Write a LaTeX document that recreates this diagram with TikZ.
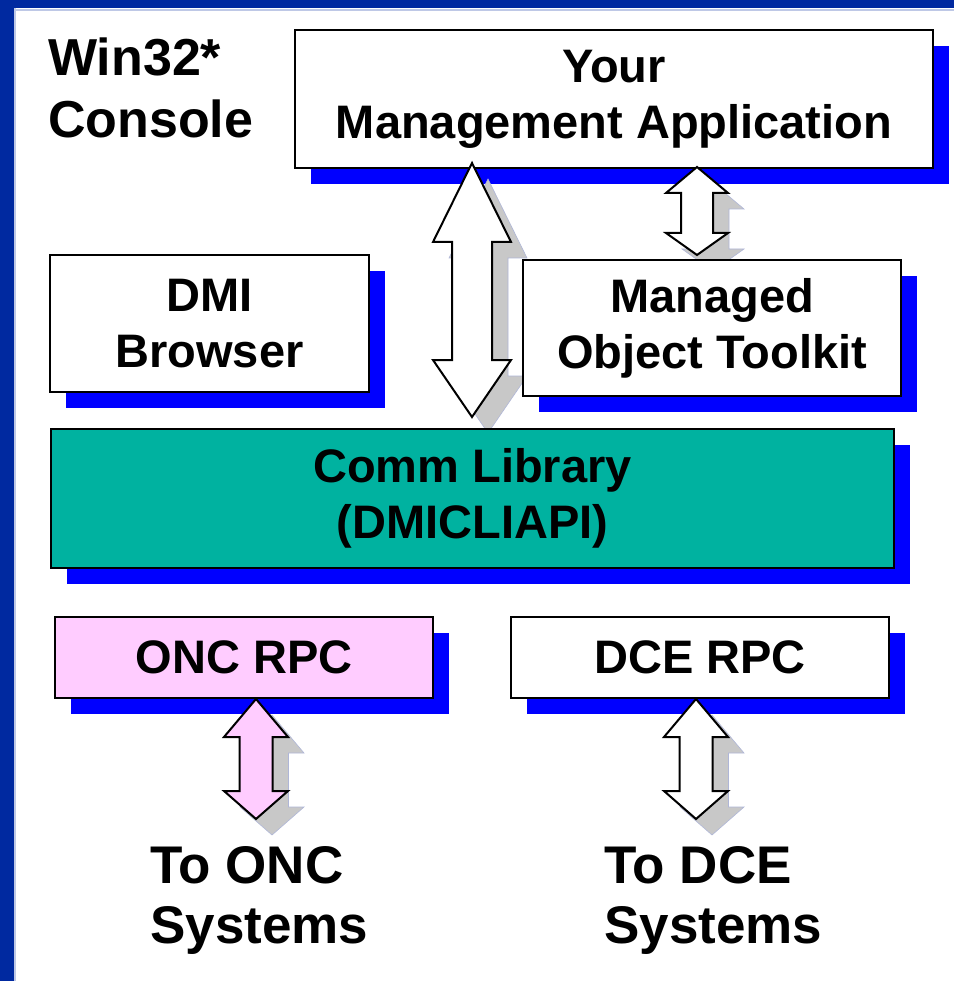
\documentclass[tikz,border=0pt]{standalone}
\usepackage{fontspec}
\setmainfont{Liberation Sans}
\usetikzlibrary{shadows}
\definecolor{frameblue}{RGB}{0,41,160}
\definecolor{framelight}{RGB}{190,200,230}
\definecolor{shadowblue}{RGB}{0,0,255}
\definecolor{commteal}{RGB}{0,178,160}
\definecolor{oncpink}{RGB}{255,204,255}
\definecolor{arrowgray}{RGB}{200,200,200}
\definecolor{arrowgrayline}{RGB}{175,182,215}
\newcommand{\blkarrow}[8]{%
  \draw[#8] (#1,#2) -- ({#1+#4},{#2+#6}) -- ({#1+#5},{#2+#6}) -- ({#1+#5},{#3-#7})
    -- ({#1+#4},{#3-#7}) -- (#1,#3) -- ({#1-#4},{#3-#7}) -- ({#1-#5},{#3-#7})
    -- ({#1-#5},{#2+#6}) -- ({#1-#4},{#2+#6}) -- cycle;}
\tikzset{
  box/.style={draw=black, line width=2pt, inner sep=0pt, align=center,
    font=\bfseries\fontsize{47}{56}\selectfont,
    drop shadow={shadow xshift=16pt, shadow yshift=-16pt, opacity=1, fill=shadowblue}},
  bigtext/.style={inner sep=0pt, align=left, font=\bfseries\fontsize{53}{60}\selectfont},
  arrowbody/.style={draw=black, line width=2pt, line join=miter},
  arrowshade/.style={fill=arrowgray, draw=arrowgrayline, line width=0.6pt}
}
\begin{document}
\begin{tikzpicture}[x=1pt,y=-1pt]
\useasboundingbox (0,0) rectangle (954,981);
\fill[white] (0,0) rectangle (954,981);
% frame
\fill[framelight] (14,9.5) rectangle (954,10.8);
\fill[framelight] (14,8) rectangle (15.6,981);
\fill[frameblue] (0,0) rectangle (14,981);
\fill[frameblue] (0,0) rectangle (954,8);

% title (base anchor = last line baseline)
\node[bigtext, anchor=base west, font=\bfseries\fontsize{52}{62}\selectfont] (title) at (48,138) {Win32*\\Console};

% top boxes
\node[box, fill=white, minimum width=638pt, minimum height=138pt] (app) at (614,99) {Your\\Management Application};
\node[box, fill=oncpink, minimum width=378pt, minimum height=81pt] (onc) at (244,657.5) {ONC RPC};
\node[box, fill=white, minimum width=378pt, minimum height=81pt] (dce) at (700,657.5) {DCE RPC};

% arrows: shadows
\blkarrow{488}{179}{433}{39}{20}{79}{57}{arrowshade}
\blkarrow{713}{183}{271}{31}{16}{26}{22}{arrowshade}
\blkarrow{272}{715}{835}{32}{16.5}{38}{28}{arrowshade}
\blkarrow{712}{715}{835}{32}{16.5}{38}{28}{arrowshade}
% arrows
\blkarrow{472}{163}{417}{39}{20}{79}{57}{arrowbody, fill=white}
\blkarrow{697}{167}{255}{31}{16}{26}{22}{arrowbody, fill=white}
\blkarrow{256}{699}{819}{32}{16.5}{38}{28}{arrowbody, fill=oncpink}
\blkarrow{696}{699}{819}{32}{16.5}{38}{28}{arrowbody, fill=white}

% middle boxes
\node[box, fill=white, minimum width=319pt, minimum height=137pt] (dmi) at (209.5,323.5) {DMI\\Browser};
\node[box, fill=white, minimum width=378pt, minimum height=136pt] (mot) at (712,328) {Managed\\Object Toolkit};
\node[box, fill=commteal, minimum width=843pt, minimum height=139pt] (comm) at (472.5,498.5) {Comm Library\\(DMICLIAPI)};

% bottom labels
\node[bigtext, anchor=base west] (toonc) at (150,943) {To ONC\\Systems};
\node[bigtext, anchor=base west] (todce) at (604,943) {To DCE\\Systems};
\end{tikzpicture}
\end{document}
